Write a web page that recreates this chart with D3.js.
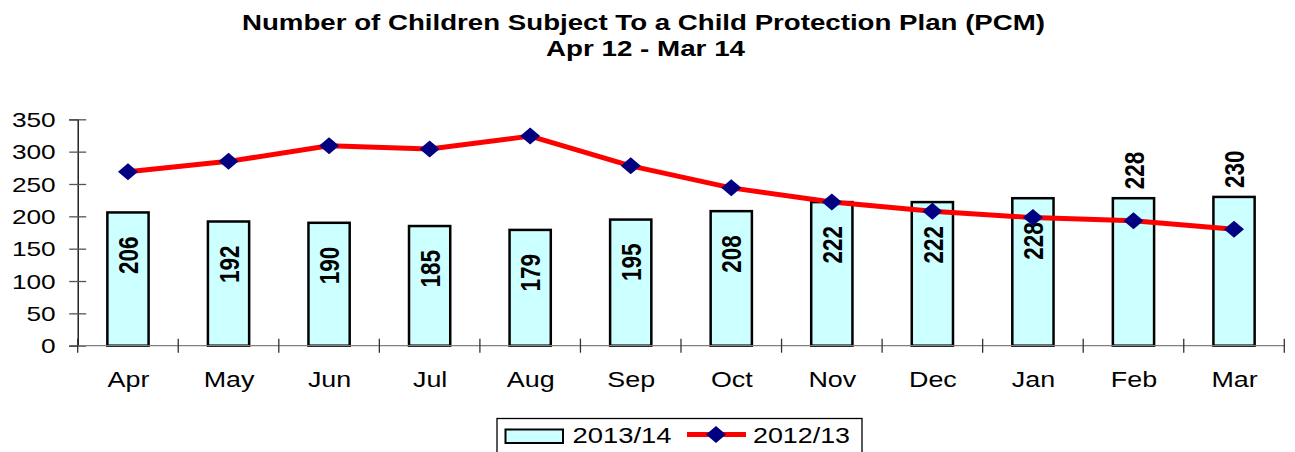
<!DOCTYPE html>
<html>
<head>
<meta charset="utf-8">
<script src="https://cdn.jsdelivr.net/npm/d3@7"></script>
<style>
  html, body { margin: 0; padding: 0; background: #fff; }
  svg { display: block; }
  text { font-family: "Liberation Sans", Arial, sans-serif; fill: #000; }
</style>
</head>
<body>
<svg id="chart" width="1295" height="452"></svg>
<script>
const categories = ["Apr", "May", "Jun", "Jul", "Aug", "Sep", "Oct", "Nov", "Dec", "Jan", "Feb", "Mar"];
const bars201314 = [206, 192, 190, 185, 179, 195, 208, 222, 222, 228, 228, 230];
const line201213 = [269, 285, 309, 304, 324, 278, 244, 222, 208, 198, 193, 180];
const yTicks = [0, 50, 100, 150, 200, 250, 300, 350];
const labelOutside = [false, false, false, false, false, false, false, false, false, false, true, true];
const seriesNames = ["2013/14", "2012/13"];
const titleLines = ["Number of Children Subject To a Child Protection Plan (PCM)", "Apr 12 - Mar 14"];

const SX = 1.25; // horizontal stretch of the reference text
const svg = d3.select("#chart");

const x = d3.scaleBand().domain(categories).range([77.7, 1284.3]).paddingInner(0.59).paddingOuter(0.295);
const xStep = d3.scaleBand().domain(categories).range([77.7, 1284.3]);
const y = d3.scaleLinear().domain([0, 350]).range([345.7, 119.3]);

function stretchedText(g, tx, ty, str, opts) {
  const t = g.append("text")
    .attr("transform", `translate(${tx},${ty}) scale(${SX},1)` + (opts.rotate ? ` rotate(${opts.rotate})` : ""))
    .attr("font-size", opts.size)
    .attr("font-weight", opts.weight || "normal")
    .attr("text-anchor", opts.anchor || "start")
    .text(str);
  if (opts.dy) t.attr("dy", opts.dy);
  if (opts.len) t.attr("textLength", opts.len / SX).attr("lengthAdjust", "spacingAndGlyphs");
  return t;
}

// Title
stretchedText(svg, 643.5, 30, titleLines[0], {size: 21.5, weight: "bold", anchor: "middle", len: 803});
stretchedText(svg, 645.5, 56, titleLines[1], {size: 21.5, weight: "bold", anchor: "middle", len: 199});

// Bars
svg.append("g").selectAll("rect").data(bars201314).join("rect")
  .attr("x", (d, i) => x(categories[i]))
  .attr("y", d => y(d))
  .attr("width", x.bandwidth())
  .attr("height", d => y(0) - y(d))
  .attr("fill", "#CCFFFF")
  .attr("stroke", "#000")
  .attr("stroke-width", 2.5);

// Y axis
const yAxis = svg.append("g").attr("transform", "translate(77.7,0)")
  .call(d3.axisLeft(y).tickValues(yTicks).tickSize(8.5).tickPadding(14));
yAxis.select(".domain").attr("stroke", "#000").attr("stroke-width", 1.3);
yAxis.selectAll(".tick line").attr("stroke", "#555").attr("stroke-width", 1.3).attr("x2", 8.5).attr("x1", -8.5);
yAxis.selectAll(".tick text").remove();
yTicks.forEach(v => {
  stretchedText(yAxis, -22, y(v), String(v), {size: 21, anchor: "end", dy: "0.36em"});
});

// X axis
const xg = svg.append("g").attr("transform", `translate(0,${y(0)})`);
xg.append("line").attr("x1", 77.7).attr("x2", 1284.3).attr("y1", 0).attr("y2", 0)
  .attr("stroke", "#808080").attr("stroke-width", 1.3);
const bounds = categories.map(c => xStep(c)).concat([xStep(categories[categories.length - 1]) + xStep.step()]);
xg.selectAll("line.tk").data(bounds).join("line").attr("class", "tk")
  .attr("x1", d => d).attr("x2", d => d).attr("y1", -7).attr("y2", 7)
  .attr("stroke", "#333").attr("stroke-width", 1.3);
categories.forEach(c => {
  stretchedText(xg, xStep(c) + xStep.step() / 2 + 0.5, 41.5, c, {size: 21.5, anchor: "middle"});
});

// Bar labels
const lbl = svg.append("g");
bars201314.forEach((v, i) => {
  const cx = x(categories[i]) + x.bandwidth() / 2;
  if (labelOutside[i]) {
    stretchedText(lbl, cx, y(v) - 9, String(v), {size: 22.5, weight: "bold", anchor: "start", rotate: -90, dy: "0.36em"});
  } else {
    stretchedText(lbl, cx, y(v) + 24, String(v), {size: 22.5, weight: "bold", anchor: "end", rotate: -90, dy: "0.36em"});
  }
});

// Line series
const line = d3.line().x((d, i) => xStep(categories[i]) + xStep.step() / 2).y(d => y(d));
svg.append("path").datum(line201213).attr("d", line)
  .attr("fill", "none").attr("stroke", "#FF0000").attr("stroke-width", 5).attr("stroke-linejoin", "round");
const diamond = (cx, cy) => `M${cx},${cy - 8.5} L${cx + 10},${cy} L${cx},${cy + 8.5} L${cx - 10},${cy} Z`;
svg.append("g").selectAll("path").data(line201213).join("path")
  .attr("d", (d, i) => diamond(xStep(categories[i]) + xStep.step() / 2, y(d)))
  .attr("fill", "#000080");

// Legend
const lg = svg.append("g");
lg.append("rect").attr("x", 497).attr("y", 418.5).attr("width", 365).attr("height", 40)
  .attr("fill", "#fff").attr("stroke", "#000").attr("stroke-width", 1.3);
lg.append("rect").attr("x", 505.5).attr("y", 429.5).attr("width", 57.5).attr("height", 13.5)
  .attr("fill", "#CCFFFF").attr("stroke", "#000").attr("stroke-width", 2);
stretchedText(lg, 572.5, 443, seriesNames[0], {size: 21.5, len: 99});
lg.append("line").attr("x1", 687).attr("x2", 746).attr("y1", 434.5).attr("y2", 434.5)
  .attr("stroke", "#FF0000").attr("stroke-width", 5);
lg.append("path").attr("d", diamond(716, 434.5)).attr("fill", "#000080");
stretchedText(lg, 753, 443, seriesNames[1], {size: 21.5, len: 97});
</script>
</body>
</html>
